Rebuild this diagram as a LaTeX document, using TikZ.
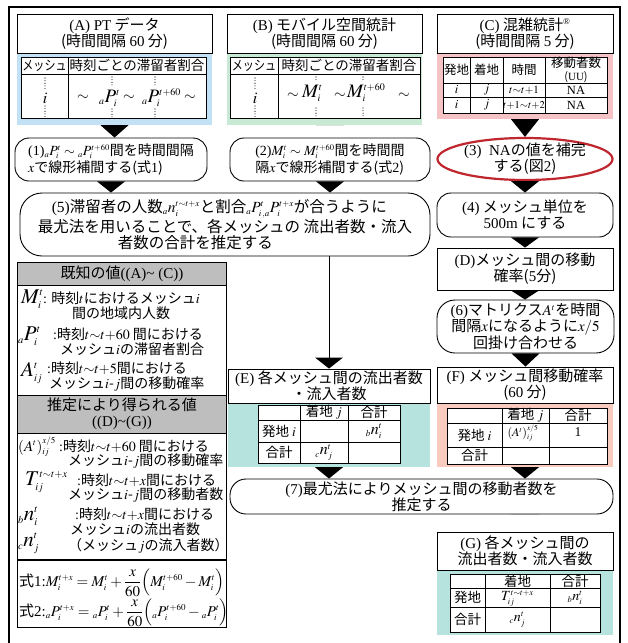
\documentclass[tikz,border=0pt]{standalone}
\usepackage{mathptmx}
\usepackage[no-math]{fontspec}
\setmainfont{Noto Sans CJK JP}
\newfontfamily\tms{Liberation Serif}
\usepackage{graphicx}
\usetikzlibrary{shapes.geometric}
\DeclareMathSizes{21}{21}{10.5}{7}
\DeclareMathSizes{19}{19}{10}{7}
\DeclareMathSizes{18}{18}{10}{7}
\DeclareMathSizes{17}{17}{9}{7}
\DeclareMathSizes{16}{16}{9}{7}
\DeclareMathSizes{15.5}{15.5}{9}{7}
\DeclareMathSizes{15}{15}{9}{7}
\DeclareMathSizes{14.5}{14.5}{8.5}{6.5}
\DeclareMathSizes{14}{14}{8.5}{6.5}
\DeclareMathSizes{13.5}{13.5}{8}{6}
\DeclareMathSizes{12}{12}{7.5}{6}
\definecolor{bandblue}{HTML}{C2E1F4}
\definecolor{bandgreen}{HTML}{C8EAD5}
\definecolor{bandpink}{HTML}{F5C2C6}
\definecolor{bandsalmon}{HTML}{F8CBBE}
\definecolor{bandteal}{HTML}{B7E3DF}
\definecolor{panelgray}{HTML}{BEBEBE}
\definecolor{ellred}{HTML}{C0262D}
\newcommand\T[1]{{\tms #1}}
\newcommand\sq[1]{\scalebox{0.82}[1]{#1}}
\newcommand\tri[2]{\fill (#1) ++(-14,0) -- ++(28,0) -- (#1 |- #2) -- cycle;}
\newcommand\fs[1]{\fontsize{#1}{#1}\selectfont}
\newcommand\ttx[1]{t{\sim}t{+}#1}
\tikzset{
  box/.style={draw, line width=0.9pt, inner sep=0pt, align=center, fill=white},
  rbox/.style={box, rounded corners=14pt},
  band/.style={inner sep=0pt, draw=none},
  cell/.style={inner sep=0pt, font=\fontsize{13.5}{14}\selectfont},
  ccell/.style={inner sep=0pt, font=\fontsize{12.5}{13}\selectfont, align=center},
  tbl/.style={line width=0.8pt},
  dots/.style={line width=1.1pt, dash pattern=on 0pt off 2.6pt, line cap=round},
  sym/.style={inner sep=0pt, anchor=base west, font=\fs{21}},
  dsc/.style={inner sep=0pt, anchor=west, font=\fontsize{14}{15}\selectfont},
  mth/.style={inner sep=0pt, anchor=base west, font=\fs{19}},
}
\begin{document}
\begin{tikzpicture}[x=1pt,y=-1pt,font=\fontsize{15}{16}\selectfont]
\useasboundingbox (0,0) rectangle (628,643);
\fill[white] (0,0) rectangle (628,643);
\draw[line width=2pt] (9,660) -- (9,7) -- (620,7) -- (620,660);

% ---------- column A ----------
\node[band, fill=bandblue, minimum width=195, minimum height=72] (bandA) at (114.5,89) {};
\node[box, minimum width=195, minimum height=39] (hA) at (114.5,33.5) {\T{(A) PT} データ\\(時間間隔 \T{60} 分)};
\draw[tbl, fill=white] (21,57) rectangle (206,118);
\draw[tbl] (21,74) -- (206,74) (68,57) -- (68,118);
\node[cell] (tAh1) at (44.5,65.5) {\sq{メッシュ}};
\node[cell] (tAh2) at (137,65.5) {時刻ごとの滞留者割合};
\draw[dots] (45,78) -- (45,90) (45,106) -- (45,117);
\node[cell, font=\fs{16}] (tAi) at (45,98) {$i$};
\node[inner sep=0pt, font=\fs{15}] (tAs1) at (83,98) {$\sim$};
\node[mth] (tAp1) at (99,102) {${}_aP_i^t$};
\node[inner sep=0pt, font=\fs{15}] (tAs2) at (129,98) {$\sim$};
\node[mth] (tAp2) at (142,102) {${}_aP_i^{t+60}$};
\node[inner sep=0pt, font=\fs{15}] (tAs3) at (190,98) {$\sim$};
\draw[dots] (112,77) -- (112,87) (112,109) -- (112,117);
\draw[dots] (155,77) -- (155,87) (155,109) -- (155,117);

% ---------- column B ----------
\node[band, fill=bandgreen, minimum width=195, minimum height=72] (bandB) at (324.5,89) {};
\node[box, minimum width=195, minimum height=39] (hB) at (324.5,33.5) {\T{(B)} モバイル空間統計\\(時間間隔 \T{60} 分)};
\draw[tbl, fill=white] (230,57) rectangle (420,118);
\draw[tbl] (230,74) -- (420,74) (278,57) -- (278,118);
\node[cell] (tBh1) at (254,65.5) {\sq{メッシュ}};
\node[cell] (tBh2) at (349,65.5) {時刻ごとの滞留者割合};
\draw[dots] (255,78) -- (255,90) (255,106) -- (255,117);
\node[cell, font=\fs{16}] (tBi) at (255,98) {$i$};
\node[inner sep=0pt, font=\fs{15}] (tBs1) at (293,96) {$\sim$};
\node[mth] (tBm1) at (302,97) {$M_i^t$};
\node[inner sep=0pt, font=\fs{15}] (tBs2) at (340,96) {$\sim$};
\node[mth] (tBm2) at (347,97) {$M_i^{t+60}$};
\node[inner sep=0pt, font=\fs{15}] (tBs3) at (404,96) {$\sim$};
\draw[dots] (316,77) -- (316,82) (316,108) -- (316,117);
\draw[dots] (363,77) -- (363,82) (363,108) -- (363,117);

% ---------- column C ----------
\node[band, fill=bandpink, minimum width=176, minimum height=66] (bandC) at (525,86) {};
\node[box, minimum width=176, minimum height=39] (hC) at (525,33.5) {\T{(C)} 混雑統計\textsuperscript{\T{®}}\\(時間間隔 \T{5} 分)};
\draw[tbl, fill=white] (443,57) rectangle (607,113);
\draw[tbl] (443,83) -- (607,83) (443,97) -- (607,97) (470,57) -- (470,113) (503,57) -- (503,113) (545,57) -- (545,113);
\node[ccell] (tCh1) at (456.5,70) {発地};
\node[ccell] (tCh2) at (486.5,70) {着地};
\node[ccell] (tCh3) at (524,70) {時間};
\node[ccell] (tCh4) at (576,70) {移動者数\\{\fs{11}(\T{UU})}};
\node[ccell] (tC11) at (456.5,90) {$i$};
\node[ccell] (tC12) at (486.5,90) {$j$};
\node[ccell, font=\fs{11}] (tC13) at (524,90) {$\ttx{1}$};
\node[ccell] (tC14) at (576,90) {\T{NA}};
\node[ccell] (tC21) at (456.5,105) {$i$};
\node[ccell] (tC22) at (486.5,105) {$j$};
\node[ccell, font=\fs{10.5}] (tC23) at (524,105) {$t{+}1{\sim}t{+}2$};
\node[ccell] (tC24) at (576,105) {\T{NA}};

% ---------- flow nodes ----------
\node[rbox, minimum width=192, minimum height=43, align=left, font=\fontsize{14}{17}\selectfont] (n1) at (111,159.5) {\T{(1)}$_aP_i^t\sim{}_aP_i^{t+60}$間を時間間隔\\$x$で線形補間する(式\T{1})};
\node[rbox, minimum width=200, minimum height=43, align=left, font=\fontsize{14}{17}\selectfont] (n2) at (330,159.5) {\T{(2)}$M_i^t\sim M_i^{t+60}$間を時間間\\隔$x$で線形補間する(式\T{2})};
\node[rbox, rounded corners=22pt, minimum width=410, minimum height=63, align=left, font=\fontsize{15.5}{16.5}\selectfont] (n5) at (225,224.5) {\hspace{14pt}\T{(5)}滞留者の人数$_an_i^{\ttx{x}}$と割合${}_aP_{i\,,a}^tP_i^{t+x}$が合うように\\最尤法を用いることで、各メッシュの 流出者数・流入\\\hspace{80pt}者数の合計を推定する};

\node[ellipse, draw=ellred, fill=white, line width=2.2pt, minimum width=175, minimum height=42, inner sep=0pt] (n3) at (525,159) {};
\node[align=center, inner sep=0pt] (n3t) at (n3) {\T{(3)\ \ NA}の値を補完\\する(図\T{2})};
\node[rbox, minimum width=176, minimum height=44] (n4) at (525,215) {\T{(4)} メッシュ単位を\\\T{500m} にする};
\node[box, minimum width=176, minimum height=42] (nD) at (525,269) {\T{(D)}メッシュ間の移動\\確率(\T{5}分)};
\node[rbox, rounded corners=18pt, minimum width=177, minimum height=53] (n6) at (525.5,326.5) {\T{(6)}マトリクス$A^t$を時間\\間隔$x$になるように$x/5$\\回掛け合わせる};
\node[band, fill=bandsalmon, minimum width=176, minimum height=64] (bandF) at (525,435) {};
\node[box, minimum width=176, minimum height=36] (nF) at (525,385) {\T{(F)} メッシュ間移動確率\\(\T{60} 分)};
\draw[tbl, fill=white] (447,408) rectangle (607,464);
\draw[tbl] (447,423) -- (607,423) (447,447) -- (607,447) (502,408) -- (502,464) (549,408) -- (549,464);
\node[cell] (tFh2) at (525.5,415.5) {着地 $j$};
\node[cell] (tFh3) at (578,415.5) {合計};
\node[cell] (tF11) at (474.5,435) {発地 $i$};
\node[cell, font=\fs{12}] (tF12) at (523,433) {$(A^t)_{ij}^{x/5}$};
\node[cell] (tF13) at (578,432) {\T{1}};
\node[cell] (tF21) at (474.5,455.5) {合計};

\node[band, fill=bandteal, minimum width=202, minimum height=64] (bandE) at (329,435) {};
\node[box, minimum width=202, minimum height=34] (nE) at (329,386) {\T{(E)} 各メッシュ間の流出者数\\・流入者数};
\draw[tbl, fill=white] (258,405) rectangle (400,463);
\draw[tbl] (258,420) -- (400,420) (258,442) -- (400,442) (300,405) -- (300,463) (348,405) -- (348,463);
\node[cell] (tEh2) at (324,412.5) {着地 $j$};
\node[cell] (tEh3) at (374,412.5) {合計};
\node[cell] (tE11) at (279,431) {発地 $i$};
\node[cell, font=\fs{16}] (tE13) at (374,431) {${}_bn_i^t$};
\node[cell] (tE21) at (279,452.5) {合計};
\node[cell, font=\fs{16}] (tE22) at (324,452.5) {${}_cn_j^t$};

\node[rbox, rounded corners=16pt, minimum width=383, minimum height=35] (n7) at (421.5,496.5) {\T{(7)}最尤法によりメッシュ間の移動者数を\\推定する};
\node[band, fill=bandteal, minimum width=176, minimum height=65] (bandG) at (525,602.5) {};
\node[box, minimum width=176, minimum height=38] (nG) at (525,551) {\T{(G)} 各メッシュ間の\\流出者数・流入者数};
\draw[tbl, fill=white] (450,574) rectangle (600,632);
\draw[tbl] (450,588) -- (600,588) (450,607) -- (600,607) (485,574) -- (485,632) (550,574) -- (550,632);
\node[cell] (tGh2) at (517.5,581) {着地};
\node[cell] (tGh3) at (575,581) {合計};
\node[cell] (tG11) at (467.5,597.5) {発地};
\node[cell, font=\fs{14}] (tG12) at (517.5,598.5) {$T_{ij}^{\ttx{x}}$};
\node[cell, font=\fs{14}] (tG13) at (575,597.5) {${}_bn_i^t$};
\node[cell] (tG21) at (467.5,619.5) {合計};
\node[cell, font=\fs{14}] (tG22) at (517.5,619.5) {${}_cn_j^t$};

% ---------- connectors ----------
\tri{bandA.south}{n1.north}
\tri{bandB.south -| n2.north}{n2.north}
\tri{bandC.south}{n3.north}
\tri{n1.south}{n5.north}
\tri{n2.south}{n5.north}
\tri{n3.south}{n4.north}
\tri{n4.south}{nD.north}
\tri{nD.south}{n6.north}
\tri{n6.south}{nF.north}
\draw[line width=1pt] (nE.north |- n5.south) -- ([yshift=11pt]nE.north);
\fill ([yshift=11pt]nE.north) ++(-14,0) -- ++(28,0) -- (nE.north) -- cycle;
\tri{bandE.south}{n7.north}
\tri{bandF.south}{n7.north}
\tri{n7.south -| nG.north}{nG.north}

% ---------- left panel ----------
\node[draw, fill=white, line width=0.9pt, minimum width=209, minimum height=365, inner sep=0pt] (panel) at (122,444.5) {};
\node[draw, fill=panelgray, line width=0.9pt, minimum width=209, minimum height=23, inner sep=0pt] (g1) at (122,273.5) {既知の値\T{((A)\textasciitilde\ (C))}};
\node[draw, fill=panelgray, line width=0.9pt, minimum width=209, minimum height=38, inner sep=0pt, align=center, font=\fontsize{15}{16}\selectfont] (g2) at (122,414) {推定により得られる値\\\T{((D)\textasciitilde(G))}};
\draw[line width=2pt] (17.5,560) -- (226.5,560);

\node[sym] (sM) at (21,303) {$M_i^t$};
\node[dsc] (dM1) at (43,298) {\T{:} 時刻$t$におけるメッシュ$i$};
\node[dsc] (dM2) at (72,313) {間の地域内人数};
\node[sym] (sP) at (18,340) {${}_aP_i^t$};
\node[dsc] (dP1) at (53,334) {\T{:}時刻$\ttx{60}$ 間における};
\node[dsc] (dP2) at (60,349) {メッシュ$i$の滞留者割合};
\node[sym] (sA) at (21,376) {$A_{ij}^t$};
\node[dsc] (dA1) at (47,368) {\T{:}時刻$\ttx{5}$間における};
\node[dsc] (dA2) at (49,384) {メッシュ$i$-$j$間の移動確率};

\node[sym, font=\fs{15}] (sAx) at (18,451) {$(A^t)_{ij}^{x/5}$};
\node[dsc] (dAx1) at (59,446) {\T{:}時刻$\ttx{60}$ 間における};
\node[dsc] (dAx2) at (68,461) {メッシュ$i$-$j$間の移動確率};
\node[sym] (sT) at (25,485) {$T_{ij}^{\ttx{x}}$};
\node[dsc] (dT1) at (77,480) {\T{:}時刻$\ttx{x}$間における};
\node[dsc] (dT2) at (68,495) {メッシュ$i$-$j$間の移動者数};
\node[sym] (sb) at (18,520) {${}_bn_i^t$};
\node[dsc] (db1) at (75,514) {\T{:}時刻$\ttx{x}$間における};
\node[dsc] (db2) at (70,529) {メッシュ$i$の流出者数};
\node[sym] (sc) at (18,546) {${}_cn_j^t$};
\node[dsc] (dc1) at (68,546) {（メッシュ$j$の流入者数）};

\node[inner sep=0pt, anchor=west, font=\fontsize{15}{16}\selectfont] (f1) at (19,583) {式\T{1:}$M_i^{t+x}=M_i^t+{\displaystyle\frac{x}{60}}\Bigl(M_i^{t+60}-M_i^t\Bigr)$};
\node[inner sep=0pt, anchor=west, font=\fontsize{15}{16}\selectfont] (f2) at (19,613) {式\T{2:}${}_aP_i^{t+x}={}_aP_i^t+{\displaystyle\frac{x}{60}}\Bigl({}_aP_i^{t+60}-{}_aP_i^t\Bigr)$};
\end{tikzpicture}
\end{document}
